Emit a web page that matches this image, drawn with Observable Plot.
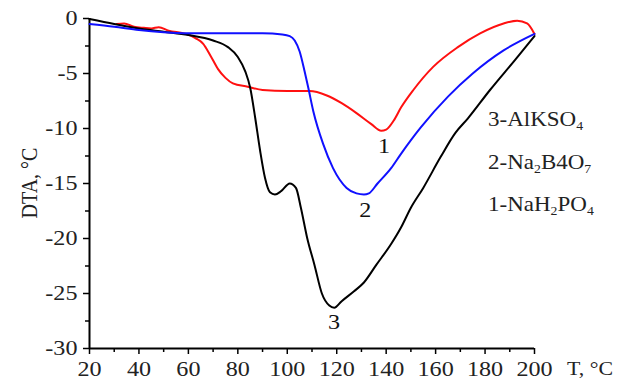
<!DOCTYPE html>
<html><head><meta charset="utf-8">
<script src="https://cdn.jsdelivr.net/npm/d3@7"></script>
<script src="https://cdn.jsdelivr.net/npm/@observablehq/plot@0.6"></script>
<style>
body{margin:0;background:#fff;}
#chart svg{display:block;font-family:"Liberation Serif","Times New Roman",serif;}
</style></head><body><div id="chart"></div>
<script>
// Curve 1: NaH2PO4 (red)
const temp1 = [31,34,38,42,45,48,52,59,63,66,69,72,75,78,84,90,100,109,116,122,128,134,138,140,143,146,151,159,169,178,187.5,193,197,200];
const dta1  = [-0.5,-0.45,-0.75,-0.85,-0.9,-0.8,-1.1,-1.4,-1.8,-2.3,-3.4,-4.6,-5.4,-5.9,-6.2,-6.5,-6.6,-6.6,-7.0,-7.7,-8.6,-9.6,-10.2,-10.1,-9.3,-8.1,-6.5,-4.4,-2.6,-1.35,-0.45,-0.2,-0.45,-1.4];
// Curve 2: Na2B4O7 (blue)
const temp2 = [20,30,40,50,60,70,80,90,98,101,103,105,107,108.5,110.5,114.5,118.5,124,128,131,133,136.5,142,146,154,165,175,187.5,200];
const dta2  = [-0.5,-0.75,-1.05,-1.25,-1.35,-1.35,-1.35,-1.35,-1.45,-1.6,-2.0,-3.0,-4.8,-6.3,-8.4,-11.4,-13.6,-15.4,-15.9,-16.0,-15.9,-15.0,-13.6,-12.3,-9.9,-7.1,-5.0,-2.9,-1.4];
// Curve 3: AlKSO4 (black)
const temp3 = [20,30,40,50,60,70,76,80,83,85,87,89,91,93,95,97.5,101,103.5,105.5,108,111,114,117,119,122,127,131,136,142,146,150,155,162,168,173,182,192,200];
const dta3  = [-0.05,-0.5,-0.9,-1.2,-1.5,-2.0,-2.6,-3.5,-4.8,-6.3,-9.0,-12,-14.5,-15.8,-16.0,-15.7,-15.0,-15.4,-17.2,-19.9,-22.4,-25.0,-26.1,-26.3,-25.7,-24.8,-24.0,-22.4,-20.5,-19.0,-17.2,-15.4,-12.6,-10.4,-9.1,-6.5,-3.8,-1.6];

const xTicks = [20,40,60,80,100,120,140,160,180,200];
const xMinor = [30,50,70,90,110,130,150,170,190];
const yTicks = [0,-5,-10,-15,-20,-25,-30];
const yMinor = [-2.5,-7.5,-12.5,-17.5,-22.5,-27.5];

const curveLabels = ["1","2","3"];
const curveLabelT = [139.1,131.6,118.9];
const curveLabelV = [-11.6,-17.4,-27.6];

const legendParts = [
  [["3-AlKSO",false],["4",true]],
  [["2-Na",false],["2",true],["B4O",false],["7",true]],
  [["1-NaH",false],["2",true],["PO",false],["4",true]]
];
const legendT = [181.4,181.4,181.4];
const legendV = [-9.83,-13.75,-17.5];

const yLabel = "DTA, °C";
const xLabel = "T, °C";

const toRows = (ts, vs) => ts.map((t,i)=>({T:t, v:vs[i]}));
const d1 = toRows(temp1,dta1), d2 = toRows(temp2,dta2), d3s = toRows(temp3,dta3);
const labRows = curveLabels.map((s,i)=>({T:curveLabelT[i], v:curveLabelV[i], s}));

const chart = Plot.plot({
  width:617, height:379,
  marginLeft:89, marginRight:83, marginTop:18, marginBottom:31,
  style:{fontFamily:'"Liberation Serif","Times New Roman",serif', fontSize:"20px", color:"#000", background:"#fff"},
  x:{domain:[20,200]},
  y:{domain:[-30,0]},
  marks:[
    Plot.axisX({ticks:xMinor, tickSize:4, tickFormat:()=>"", label:null, strokeWidth:1.5}),
    Plot.axisX({ticks:xTicks, tickSize:6, tickPadding:7, tickFormat:d=>String(d), label:null, strokeWidth:1.5, fontSize:21, fill:"#222"}),
    Plot.axisY({ticks:yMinor, tickSize:4, tickFormat:()=>"", label:null, strokeWidth:1.5}),
    Plot.axisY({ticks:yTicks, tickSize:6, tickPadding:6, tickFormat:d=>String(d), label:null, strokeWidth:1.5, fontSize:21, fill:"#222"}),
    Plot.ruleX([20], {stroke:"#000", strokeWidth:2}),
    Plot.ruleY([-30], {stroke:"#000", strokeWidth:2}),
    Plot.line(d1, {x:"T", y:"v", stroke:"#ff1010", strokeWidth:2, curve:"monotone-x"}),
    Plot.line(d3s, {x:"T", y:"v", stroke:"#000", strokeWidth:2, curve:"monotone-x"}),
    Plot.line(d2, {x:"T", y:"v", stroke:"#1010ff", strokeWidth:2, curve:"monotone-x"}),
    Plot.text(labRows, {x:"T", y:"v", text:"s", fontSize:21, fill:"#111"})
  ]
});
document.getElementById("chart").appendChild(chart);

const svg = d3.select(chart);
const SX = 1.15;
svg.selectAll("text").each(function(){
  const tr = this.getAttribute("transform");
  if (tr) this.setAttribute("transform", tr + ` scale(${SX},1)`);
});
const xs = chart.scale("x"), ys = chart.scale("y");

legendParts.forEach((parts,i)=>{
  const t = svg.append("text")
    .attr("transform", `translate(${xs.apply(legendT[i])},${ys.apply(legendV[i])}) scale(${SX},1)`)
    .attr("text-anchor","start")
    .attr("font-size", 20).attr("fill", "#222");
  let shifted = false;
  parts.forEach(([s,sub])=>{
    const ts = t.append("tspan").text(s);
    if (sub && !shifted) { ts.attr("dy", 4).attr("font-size", 12); shifted = true; }
    else if (sub) { ts.attr("font-size", 12); }
    else if (!sub && shifted) { ts.attr("dy", -4); shifted = false; }
  });
});

// y axis label
svg.append("text")
  .attr("transform", `translate(37,${(ys.apply(0)+ys.apply(-30))/2}) rotate(-90) scale(1,${SX})`)
  .attr("text-anchor","middle").attr("font-size",20).attr("fill","#222").text(yLabel);
// x axis label
svg.append("text")
  .attr("transform", `translate(${xs.apply(200)+33},${ys.apply(-30)+27}) scale(${SX},1)`)
  .attr("text-anchor","start")
  .attr("font-size",19).attr("fill","#222").text(xLabel);
</script></body></html>
